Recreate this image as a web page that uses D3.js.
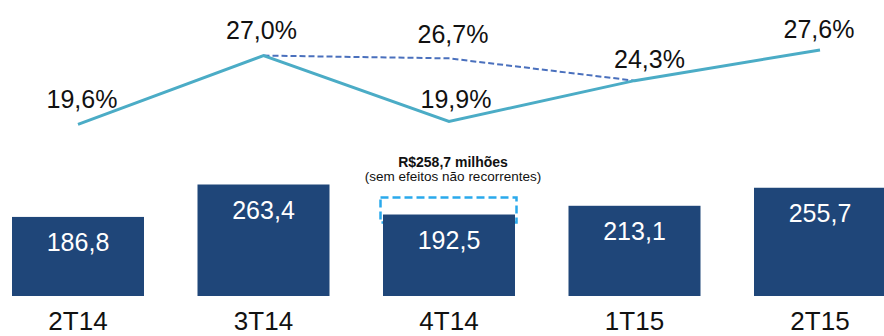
<!DOCTYPE html>
<html>
<head>
<meta charset="utf-8">
<script src="https://cdn.jsdelivr.net/npm/d3@7"></script>
<style>
  body { margin: 0; background: #fff; }
  svg { display: block; font-family: Arial, "Liberation Sans", sans-serif; }
</style>
</head>
<body>
<svg id="chart" width="884" height="336"></svg>
<script>
// data
const quarters = ["2T14", "3T14", "4T14", "1T15", "2T15"];
const profit = [186.8, 263.4, 192.5, 213.1, 255.7];
const margin = [19.6, 27.0, 19.9, 24.3, 27.6];
// recurring view for 4T14 (dashed line 3T14 -> 4T14 -> 1T15)
const recurringQuarters = ["3T14", "4T14", "1T15"];
const recurringMargin = [27.0, 26.7, 24.3];
const recurringProfit = 258.7;
const noteLines = ["R$258,7 milhões", "(sem efeitos não recorrentes)"];

const fmt = v => d3.format(".1f")(v).replace(".", ",");

const svg = d3.select("#chart");

// scales
let x = d3.scalePoint()
          .domain(quarters)
          .range([78, 820]);
let barWidth = 132;

let yBar = d3.scaleLinear()
             .domain([0, 263.4])
             .range([296, 184.5]);

let yLine = d3.scaleLinear()
              .domain([19.6, 27.6])
              .range([124.3, 50]);

// dashed box for the recurring value, sitting over the 4T14 bar
let boxRise = 17;
svg.append("rect")
   .attr("x", x("4T14") - barWidth / 2 - 2.5)
   .attr("y", yBar(profit[2]) - boxRise)
   .attr("width", barWidth + 4)
   .attr("height", boxRise + 8)
   .style("fill", "none")
   .style("stroke", "#2aa9ec")
   .style("stroke-width", 2.5)
   .style("stroke-dasharray", "8,4");

// bars
svg.selectAll(".bar")
   .data(profit)
   .join("rect")
   .attr("class", "bar")
   .attr("x", (d, i) => x(quarters[i]) - barWidth / 2)
   .attr("y", d => yBar(d))
   .attr("width", barWidth)
   .attr("height", d => yBar(0) - yBar(d))
   .style("fill", "#1f4679");

svg.selectAll(".barLabel")
   .data(profit)
   .join("text")
   .attr("class", "barLabel")
   .attr("x", (d, i) => x(quarters[i]))
   .attr("y", d => yBar(d) + 34)
   .attr("text-anchor", "middle")
   .style("font-size", "25px")
   .style("fill", "#fff")
   .text(d => fmt(d));

// note above the dashed box
svg.selectAll(".note")
   .data(noteLines)
   .join("text")
   .attr("class", "note")
   .attr("x", x("4T14") + 4)
   .attr("y", (d, i) => yBar(profit[2]) - boxRise - 31 + i * 14.5)
   .attr("text-anchor", "middle")
   .style("font-size", (d, i) => i === 0 ? "14px" : "13.5px")
   .style("font-weight", (d, i) => i === 0 ? "bold" : "normal")
   .style("fill", "#111")
   .text(d => d);

// category labels (the reference crops them at the bottom edge)
svg.selectAll(".cat")
   .data(quarters)
   .join("text")
   .attr("class", "cat")
   .attr("x", d => x(d))
   .attr("y", 330)
   .attr("text-anchor", "middle")
   .style("font-size", "26px")
   .style("fill", "#111")
   .text(d => d);

// dashed recurring margin line
let lineGen = d3.line()
                .x(d => x(d[0]))
                .y(d => yLine(d[1]));

svg.append("path")
   .datum(recurringQuarters.map((q, i) => [q, recurringMargin[i]]))
   .attr("d", lineGen)
   .style("fill", "none")
   .style("stroke", "#4a70bd")
   .style("stroke-width", 2)
   .style("stroke-dasharray", "6,3");

// margin line
svg.append("path")
   .datum(quarters.map((q, i) => [q, margin[i]]))
   .attr("d", lineGen)
   .style("fill", "none")
   .style("stroke", "#4bacc6")
   .style("stroke-width", 3);

let labelShift = [4, -2, 7, 15, -1];
let labelLift = [16, 17, 14, 13, 12];

svg.selectAll(".marginLabel")
   .data(margin)
   .join("text")
   .attr("class", "marginLabel")
   .attr("x", (d, i) => x(quarters[i]) + labelShift[i])
   .attr("y", (d, i) => yLine(d) - labelLift[i])
   .attr("text-anchor", "middle")
   .style("font-size", "25px")
   .style("fill", "#111")
   .text(d => fmt(d) + "%");

// label for the recurring 4T14 margin
svg.append("text")
   .attr("x", x("4T14") + 4)
   .attr("y", yLine(recurringMargin[1]) - 15)
   .attr("text-anchor", "middle")
   .style("font-size", "25px")
   .style("fill", "#111")
   .text(fmt(recurringMargin[1]) + "%");
</script>
</body>
</html>
